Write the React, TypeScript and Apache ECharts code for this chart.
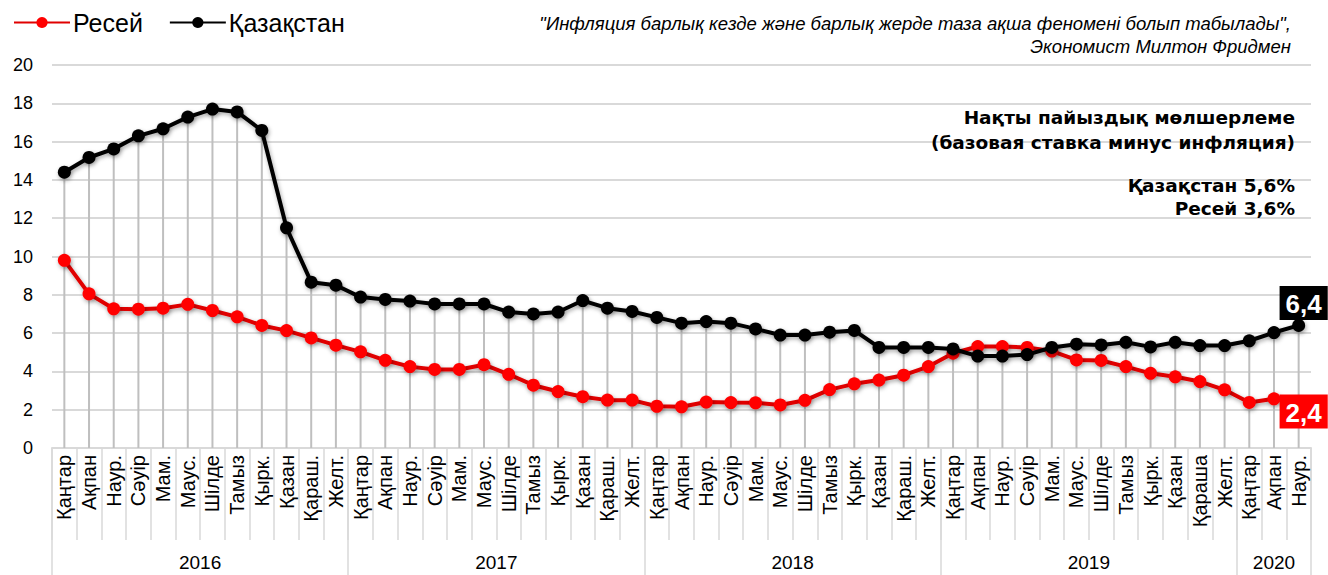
import React, { useEffect, useRef } from "react";
import * as echarts from "echarts";

const monthLabels = [
  "Қаңтар", "Ақпан", "Наур.", "Сәуір", "Мам.", "Маус.", "Шілде", "Тамыз", "Қырк.", "Қазан", "Қараш.", "Желт.",
  "Қаңтар", "Ақпан", "Наур.", "Сәуір", "Мам.", "Маус.", "Шілде", "Тамыз", "Қырк.", "Қазан", "Қараш.", "Желт.",
  "Қаңтар", "Ақпан", "Наур.", "Сәуір", "Мам.", "Маус.", "Шілде", "Тамыз", "Қырк.", "Қазан", "Қараш.", "Желт.",
  "Қаңтар", "Ақпан", "Наур.", "Сәуір", "Мам.", "Маус.", "Шілде", "Тамыз", "Қырк.", "Қазан", "Қараша", "Желт.",
  "Қаңтар", "Ақпан", "Наур.",
];
const years = ["2016", "2017", "2018", "2019", "2020"];
const yearMonthCounts = [12, 12, 12, 12, 3];

const russia = [
  9.8, 8.05, 7.27, 7.25, 7.3, 7.5, 7.18, 6.85, 6.4, 6.13, 5.75, 5.37,
  5.02, 4.58, 4.25, 4.1, 4.1, 4.35, 3.85, 3.28, 2.95, 2.68, 2.5, 2.5,
  2.18, 2.15, 2.4, 2.37, 2.36, 2.25, 2.49, 3.05, 3.35, 3.55, 3.8, 4.25,
  4.95, 5.3, 5.3, 5.25, 5.06, 4.6, 4.57, 4.25, 3.9, 3.72, 3.47, 3.04,
  2.38, 2.57, 2.4,
];
const kazakhstan = [
  14.4, 15.17, 15.62, 16.3, 16.67, 17.28, 17.7, 17.55, 16.58, 11.5, 8.66, 8.5,
  7.88, 7.76, 7.67, 7.52, 7.52, 7.52, 7.1, 7.0, 7.1, 7.7, 7.3, 7.13,
  6.82, 6.52, 6.6, 6.52, 6.22, 5.9, 5.9, 6.05, 6.14, 5.25, 5.25, 5.25,
  5.17, 4.8, 4.8, 4.88, 5.25, 5.42, 5.38, 5.52, 5.28, 5.52, 5.35, 5.35,
  5.6, 6.03, 6.4,
];
const yMin = 0;
const yMax = 20;
const yInterval = 2;

const FONT = '"Liberation Sans", Arial, sans-serif';

export default function App() {
  const ref = useRef<HTMLDivElement>(null);
  useEffect(() => {
    document.body.style.margin = "0";
    const chart = echarts.init(ref.current!, null, { renderer: "svg" });

    const yearLabelIdx = new Set<number>();
    const yearTickIdx = new Set<number>([0]);
    const yearLabelOf = new Map<number, string>();
    let start = 0;
    years.forEach((y, k) => {
      const n = yearMonthCounts[k];
      yearLabelIdx.add(start * 2 + n);
      yearLabelOf.set(start * 2 + n, y);
      start += n;
      yearTickIdx.add(start * 2);
    });
    const totalHalf = start * 2;
    const yearAxisData: string[] = [];
    for (let i = 0; i <= totalHalf; i++) yearAxisData.push(yearLabelOf.get(i) || "");

    const fmt = (v: number) => String(v).replace(".", ",");
    const last = monthLabels.length - 1;
    const shadow = { shadowColor: "rgba(0,0,0,0.35)", shadowBlur: 4, shadowOffsetY: 2, shadowOffsetX: 1 };

    const buildData = (arr: number[], bg: string, pos: "top" | "bottom", offset: number[]) =>
      arr.map((v, i) =>
        i === last
          ? {
              value: v,
              label: {
                show: true,
                position: pos,
                distance: 0,
                offset,
                formatter: (p: any) => fmt(p.value),
                backgroundColor: bg,
                color: "#fff",
                fontWeight: "bold",
                fontSize: 26,
                fontFamily: FONT,
                padding: [5, 6, 3, 6],
              },
            }
          : v
      );

    chart.setOption({
      animation: false,
      textStyle: { fontFamily: FONT },
      legend: {
        data: ["Ресей", "Қазақстан"],
        left: 8,
        top: 5,
        itemWidth: 56,
        itemHeight: 14,
        itemGap: 26,
        textStyle: { fontSize: 25, color: "#000", fontFamily: FONT, padding: [0, 0, 0, -2] },
      },
      grid: { left: 52, right: 17, top: 65, bottom: 127, containLabel: false },
      xAxis: [
        {
          type: "category",
          data: monthLabels,
          boundaryGap: true,
          axisLine: { show: true, lineStyle: { color: "#d9d9d9", width: 2 } },
          axisTick: { show: true, interval: 0, length: 92, lineStyle: { color: "#d9d9d9", width: 1.5 } },
          axisLabel: { interval: 0, rotate: 90, fontSize: 20, color: "#000", margin: 7, fontFamily: FONT },
        },
        {
          type: "category",
          data: yearAxisData,
          boundaryGap: false,
          position: "bottom",
          axisLine: { show: false },
          axisTick: {
            show: true,
            length: 127,
            interval: (index: number) => yearTickIdx.has(index),
            lineStyle: { color: "#d9d9d9", width: 1.5 },
          },
          axisLabel: {
            interval: (index: number) => yearLabelIdx.has(index),
            fontSize: 19,
            color: "#000",
            margin: 105,
            fontFamily: FONT,
          },
        },
      ],
      yAxis: {
        type: "value",
        min: yMin,
        max: yMax,
        interval: yInterval,
        axisLine: { show: false },
        axisTick: { show: false },
        axisLabel: { fontSize: 18, color: "#000", margin: 19, fontFamily: FONT },
        splitLine: { lineStyle: { color: "#d9d9d9", width: 2 } },
      },
      series: [
        {
          type: "custom",
          silent: true,
          z: 1,
          xAxisIndex: 0,
          data: kazakhstan.map((v, i) => [i, Math.max(v, russia[i])]),
          encode: { x: 0, y: 1 },
          renderItem: (params: any, api: any) => {
            const i = api.value(0);
            const top = api.value(1);
            const p1 = api.coord([i, top]);
            const p0 = api.coord([i, 0]);
            return {
              type: "line",
              shape: { x1: p1[0], y1: p1[1], x2: p0[0], y2: p0[1] },
              style: { stroke: "#bfbfbf", lineWidth: 2 },
            };
          },
        },
        {
          name: "Ресей",
          type: "line",
          z: 3,
          symbol: "circle",
          symbolSize: 13,
          data: buildData(russia, "#ff0000", "bottom", [5, -14]),
          lineStyle: { color: "#e00000", width: 4, ...shadow },
          itemStyle: { color: "#ff0000", ...shadow },
        },
        {
          name: "Қазақстан",
          type: "line",
          z: 4,
          symbol: "circle",
          symbolSize: 13,
          data: buildData(kazakhstan, "#000000", "top", [5, 1]),
          lineStyle: { color: "#000000", width: 4, ...shadow },
          itemStyle: { color: "#000000", ...shadow },
        },
      ],
      graphic: [
        {
          type: "text",
          x: 1291,
          y: 23,
          style: {
            text: "\"Инфляция барлық кезде және барлық жерде таза ақша феномені болып табылады\",",
            align: "right",
            verticalAlign: "middle",
            fontSize: 18.5,
            fontStyle: "italic",
            fontFamily: FONT,
            fill: "#000",
          },
        },
        {
          type: "text",
          x: 1291,
          y: 46,
          style: {
            text: "Экономист Милтон Фридмен",
            align: "right",
            verticalAlign: "middle",
            fontSize: 18.5,
            fontStyle: "italic",
            fontFamily: FONT,
            fill: "#000",
          },
        },
        ...[
          ["Нақты пайыздық мөлшерлеме", 117],
          ["(базовая ставка минус инфляция)", 142],
          ["Қазақстан 5,6%", 185],
          ["Ресей 3,6%", 208],
        ].map(([t, y]) => ({
          type: "text",
          x: 1295,
          y: y as number,
          z: 10,
          style: {
            text: t as string,
            align: "right",
            verticalAlign: "middle",
            fontSize: 18.5,
            fontWeight: "bold",
            fontFamily: '"DejaVu Sans", sans-serif',
            fill: "#000",
          },
        })),
      ],
    });
    return () => chart.dispose();
  }, []);
  return <div ref={ref} style={{ position: "absolute", left: 0, top: 0, width: 1328, height: 575 }} />;
}
